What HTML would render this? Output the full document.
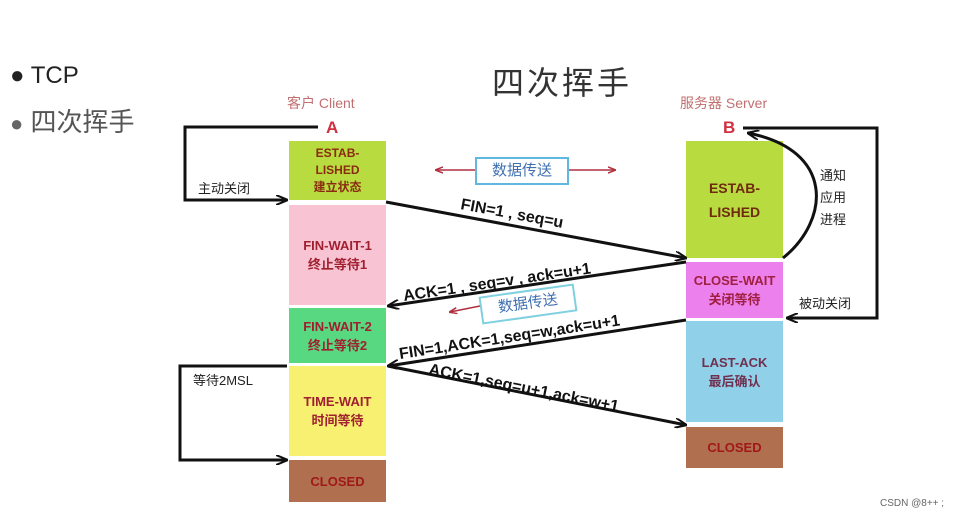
<!DOCTYPE html>
<html><head><meta charset="utf-8"><style>
body{margin:0;background:#fff;width:968px;height:517px;overflow:hidden;position:relative;font-family:"Liberation Sans","Noto Sans CJK SC",sans-serif}
.a{position:absolute}
.b{position:absolute;display:flex;flex-direction:column;align-items:center;justify-content:center;font-weight:bold;font-size:13px;line-height:19px;text-align:center}
</style></head><body>
<div class="a" style="left:10px;top:62px;font-size:24px;color:#222">● TCP</div>
<div class="a" style="left:10px;top:102px;font-size:26px;color:#555"><span style="color:#666;font-size:22px">●</span> 四次挥手</div>
<div class="a" style="left:492px;top:58px;font-size:32px;letter-spacing:3px;color:#333">四次挥手</div>
<div class="a" style="left:287px;top:93px;font-size:14px;color:#c07070">客户 Client</div>
<div class="a" style="left:680px;top:93px;font-size:14px;color:#c07070">服务器 Server</div>
<div class="a" style="left:326px;top:118px;font-size:17px;font-weight:bold;color:#d03040">A</div>
<div class="a" style="left:723px;top:118px;font-size:17px;font-weight:bold;color:#d03040">B</div>

<div class="b" style="left:289px;top:141px;width:97px;height:59px;background:#b8dc40;color:#8a2a10;font-size:12px;line-height:17px">ESTAB-<br>LISHED<br>建立状态</div>
<div class="b" style="left:289px;top:205px;width:97px;height:100px;background:#f8c4d4;color:#a02030">FIN-WAIT-1<br>终止等待1</div>
<div class="b" style="left:289px;top:308px;width:97px;height:55px;background:#58d880;color:#a02030">FIN-WAIT-2<br>终止等待2</div>
<div class="b" style="left:289px;top:366px;width:97px;height:90px;background:#f8f070;color:#a02030">TIME-WAIT<br>时间等待</div>
<div class="b" style="left:289px;top:460px;width:97px;height:42px;background:#b07050;color:#a01818">CLOSED</div>

<div class="b" style="left:686px;top:141px;width:97px;height:117px;background:#b8dc40;color:#702a10;font-size:14px;line-height:24px">ESTAB-<br>LISHED</div>
<div class="b" style="left:686px;top:262px;width:97px;height:56px;background:#ec80ec;color:#a02040">CLOSE-WAIT<br>关闭等待</div>
<div class="b" style="left:686px;top:321px;width:97px;height:101px;background:#90d0e8;color:#703050">LAST-ACK<br>最后确认</div>
<div class="b" style="left:686px;top:427px;width:97px;height:41px;background:#b07050;color:#a01818">CLOSED</div>

<div class="a" style="left:475px;top:157px;width:94px;height:28px;border:2px solid #60b8e0;box-sizing:border-box;color:#4070b0;font-size:15px;text-align:center;line-height:24px">数据传送</div>
<div class="a" style="left:480px;top:290px;width:96px;height:28px;border:2px solid #80d0e0;box-sizing:border-box;color:#4070b0;font-size:15px;text-align:center;line-height:24px;transform:rotate(-8deg)">数据传送</div>

<svg class="a" style="left:0;top:0" width="968" height="517">
<defs><marker id="m" markerWidth="12" markerHeight="10" refX="11" refY="5" orient="auto" markerUnits="userSpaceOnUse"><path d="M0,0 L12,5 L0,10" fill="none" stroke="#111" stroke-width="2"/></marker>
<marker id="r" markerWidth="8" markerHeight="8" refX="7" refY="4" orient="auto" markerUnits="userSpaceOnUse"><path d="M0,1 L8,4 L0,7" fill="none" stroke="#b03040" stroke-width="1.5"/></marker></defs>
<g stroke="#111" stroke-width="3" fill="none">
<path d="M318,127 H185 V200 H287" marker-end="url(#m)"/>
<path d="M287,366 H180 V460 H287" marker-end="url(#m)"/>
<path d="M743,128 H877 V318 H787" marker-end="url(#m)"/>
<path d="M783,258 C830,220 835,150 748,133" marker-end="url(#m)"/>
<path d="M386,202 L686,258" marker-end="url(#m)"/>
<path d="M686,262 L388,306" marker-end="url(#m)"/>
<path d="M686,320 L388,366" marker-end="url(#m)"/>
<path d="M388,366 L686,425" marker-end="url(#m)"/>
</g>
<g stroke="#b03040" stroke-width="1.5">
<path d="M475,170 H436" marker-end="url(#r)"/>
<path d="M569,170 H615" marker-end="url(#r)"/>
<path d="M480,306 L450,312" marker-end="url(#r)"/>
</g>
<g font-family="Liberation Sans, sans-serif" font-weight="bold" font-size="16" fill="#111">
<text transform="translate(460,209) rotate(10.5)">FIN=1 , seq=u</text>
<text transform="translate(404,301) rotate(-8.4)">ACK=1 , seq=v , ack=u+1</text>
<text transform="translate(400,359) rotate(-8.7)">FIN=1,ACK=1,seq=w,ack=u+1</text>
<text transform="translate(428,374) rotate(11.2)">ACK=1,seq=u+1,ack=w+1</text>
</g>
<g font-family="Liberation Sans, Noto Sans CJK SC, sans-serif" font-size="13" fill="#222">
<text x="198" y="193">主动关闭</text>
<text x="193" y="385">等待2MSL</text>
<text x="820" y="180">通知</text>
<text x="820" y="202">应用</text>
<text x="820" y="224">进程</text>
<text x="799" y="308">被动关闭</text>
</g>
<text x="880" y="506" font-size="10" fill="#666" font-family="Liberation Sans, sans-serif">CSDN @8++ ;</text>
</svg>
</body></html>
